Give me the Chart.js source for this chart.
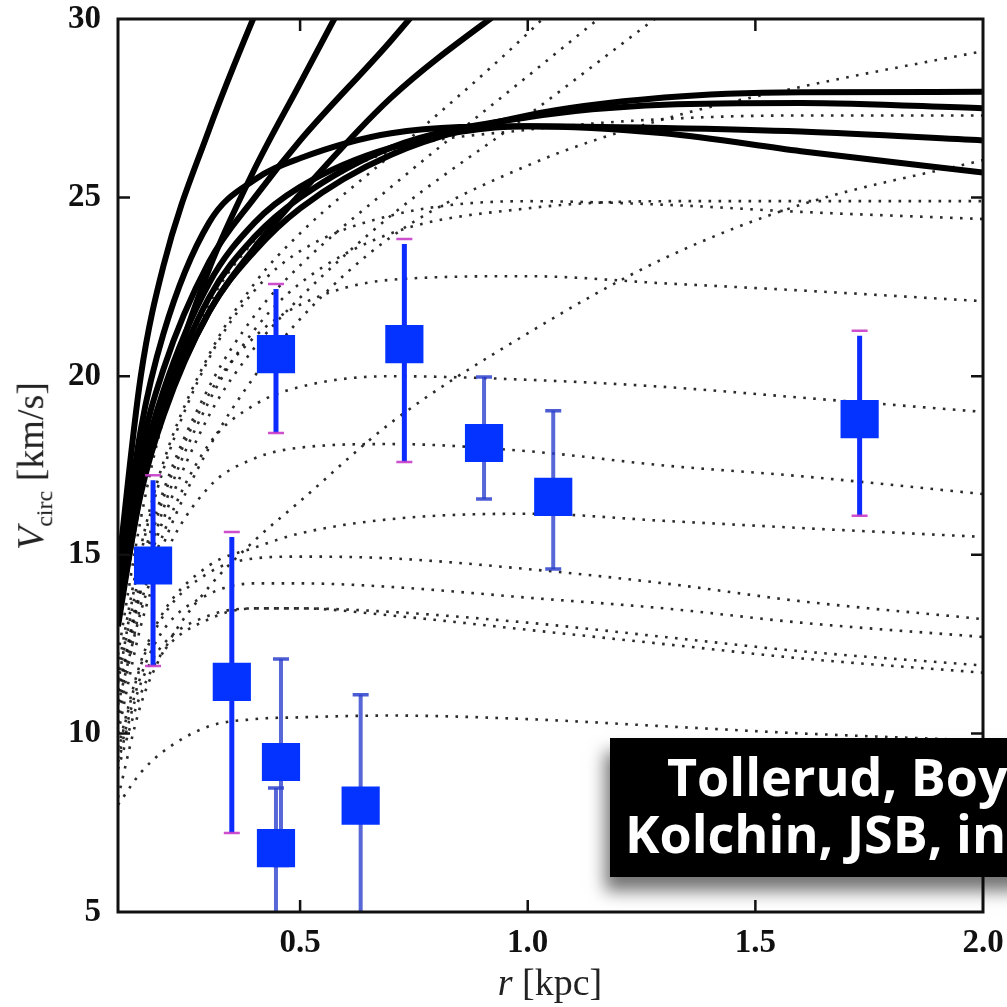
<!DOCTYPE html>
<html lang="en">
<head>
<meta charset="UTF-8">
<title>Vcirc vs r</title>
<script src="https://cdn.jsdelivr.net/npm/chart.js"></script>
<style>
  body { margin: 0; background: #fff; }
  #wrap { position: relative; width: 1007px; height: 1007px; overflow: hidden; }
  #chart { position: absolute; left: 0; top: 0; }
  .ytitle {
    position: absolute; left: 33px; top: 466px;
    transform: translate(-50%, -50%) rotate(-90deg);
    font-family: "Liberation Serif", serif; font-size: 38px;
    white-space: nowrap; color: #222;
  }
  .xtitle {
    position: absolute; left: 550px; top: 982px;
    transform: translate(-50%, -50%);
    font-family: "Liberation Serif", serif; font-size: 38px;
    white-space: nowrap; color: #222;
  }
  .ytitle sub { font-size: 24px; }
  .credit {
    position: absolute; left: 610px; top: 738px; width: 430px; height: 139px;
    background: #000; box-shadow: -5px 14px 16px rgba(0,0,0,0.55);
  }
  .credit span {
    position: absolute; color: #fff; white-space: nowrap;
    font-family: "Open Sans", sans-serif; font-weight: bold; font-size: 52px; line-height: 1;
  }
</style>
</head>
<body>
<div id="wrap">
  <canvas id="chart" width="1007" height="1007"></canvas>
  <div class="ytitle"><i>V</i><sub>circ</sub> [km/s]</div>
  <div class="xtitle"><i>r</i> [kpc]</div>
  <div class="credit">
    <span style="left:57px; top:12px;">Tollerud, Boy</span>
    <span style="left:15px; top:69px;">Kolchin, JSB, in</span>
  </div>
</div>
<script>
const rGrid = [0.1, 0.15, 0.2, 0.3, 0.4, 0.5, 0.7, 1.0, 1.3, 1.6, 2.0];

// solid curves (km/s)
const solid1 = [14.5, 20.0, 23.1, 26.9, 30.1, 33.0, null, null, null, null, null];
const solid2 = [13.5, 17.0, 19.3, 23.0, 25.8, 28.2, 33.0, null, null, null, null];
const solid3 = [13.3, 17.8, 20.2, 23.2, 25.0, 26.6, 29.4, 34.0, null, null, null];
const solid4 = [13.0, 16.8, 19.0, 21.8, 23.6, 25.1, 27.8, 30.8, null, null, null];
const solid5 = [13.2, 16.7, 18.9, 21.8, 23.5, 24.7, 26.2, 27.3, 27.8, 27.95, 27.96];
const solid6 = [13.3, 17.0, 19.2, 22.2, 23.9, 25.0, 26.4, 27.25, 27.6, 27.65, 27.5];
const solid7 = [13.4, 17.3, 19.6, 22.6, 24.3, 25.3, 26.4, 27.0, 26.95, 26.85, 26.6];
const solid8 = [14.0, 18.5, 21.2, 24.3, 25.5, 26.1, 26.8, 27.0, 26.8, 26.3, 25.7];

// dotted curves (km/s)
const dotted1 = [11.8, 15.2, 17.6, 20.6, 22.6, 24.0, 26.2, 29.6, 33.5, null, null];
const dotted2 = [11.5, 14.6, 16.8, 19.7, 21.7, 23.1, 25.3, 28.4, 31.5, null, null];
const dotted3 = [11.2, 14.0, 16.0, 18.9, 20.8, 22.2, 24.5, 27.3, 30.2, 33.0, null];
const dotted4 = [10.8, 13.4, 15.3, 18.0, 20.0, 21.6, 23.9, 25.9, 27.2, 28.1, 29.1];
const dotted5 = [12.2, 16.0, 18.8, 22.0, 23.8, 25.0, 26.3, 26.9, 27.2, 27.3, 27.3];
const dotted6 = [8.2, 10.8, 12.3, 14.1, 15.4, 16.5, 18.7, 21.2, 23.3, 24.8, 26.05];
const dotted7 = [10.6, 14.0, 16.3, 19.3, 21.3, 22.6, 24.0, 24.7, 24.9, 24.9, 24.9];
const dotted8 = [11.4, 15.0, 17.4, 20.5, 22.4, 23.5, 24.5, 24.9, 24.8, 24.6, 24.4];
const dotted9 = [10.9, 14.3, 16.6, 19.5, 21.1, 22.0, 22.7, 22.8, 22.6, 22.4, 22.1];
const dotted10 = [10.3, 13.6, 15.6, 18.1, 19.2, 19.7, 20.0, 19.9, 19.7, 19.4, 19.0];
const dotted11 = [10.0, 13.0, 14.9, 16.9, 17.7, 18.0, 18.1, 17.9, 17.5, 17.2, 16.7];
const dotted12 = [9.6, 12.0, 13.4, 14.7, 15.2, 15.6, 16.0, 16.15, 15.95, 15.75, 15.5];
const dotted13 = [9.5, 11.9, 13.3, 14.5, 14.9, 14.95, 14.9, 14.6, 14.2, 13.7, 13.2];
const dotted14 = [9.3, 11.6, 12.9, 13.9, 14.2, 14.2, 14.1, 13.8, 13.5, 13.1, 12.7];
const dotted15 = [9.2, 11.4, 12.5, 13.3, 13.5, 13.5, 13.4, 13.1, 12.7, 12.3, 11.9];
const dotted16 = [9.0, 11.1, 12.3, 13.2, 13.5, 13.5, 13.3, 12.9, 12.5, 12.1, 11.7];
const dotted17 = [8.0, 8.9, 9.5, 10.2, 10.4, 10.45, 10.5, 10.4, 10.2, 10.0, 9.8];

// measured points
const pointR = [0.177, 0.350, 0.447, 0.458, 0.447, 0.633, 0.729, 0.904, 1.056, 1.729];
const pointV = [14.7, 11.44, 20.62, 9.2, 6.79, 7.98, 20.9, 18.13, 16.62, 18.8];
const errHigh = [17.23, 15.64, 22.58, 12.08, 8.47, 11.08, 23.84, 19.98, 19.03, 21.27];
const errLow = [11.89, 7.21, 18.41, 6.3, 3.5, 3.0, 17.6, 16.56, 14.6, 16.09];
const pointSet = [1, 1, 1, 2, 2, 2, 1, 2, 2, 1];

const xTicks = [0.5, 1.0, 1.5, 2.0];
const yTicks = [5, 10, 15, 20, 25, 30];

const solids = [solid1, solid2, solid3, solid4, solid5, solid6, solid7, solid8];
const dotteds = [dotted1, dotted2, dotted3, dotted4, dotted5, dotted6, dotted7, dotted8, dotted9,
  dotted10, dotted11, dotted12, dotted13, dotted14, dotted15, dotted16, dotted17];

function curve(vals, solid) {
  return {
    type: 'line',
    data: rGrid.map((r, i) => ({ x: r, y: vals[i] })),
    borderColor: solid ? '#000' : 'rgba(20,20,20,0.9)',
    borderWidth: solid ? 6 : 2.6,
    borderDash: solid ? [] : [2.6, 7.4],
    cubicInterpolationMode: 'monotone',
    pointRadius: 0,
    fill: false,
    clip: 0
  };
}

const tickFont = { family: '"Liberation Serif", serif', size: 33, weight: 'bold' };

const frame = {
  id: 'frame',
  beforeDatasetDraw(chart, args) {
    if (args.index !== 0) return;
    const { ctx, chartArea: a, scales: { x, y } } = chart;
    ctx.save();
    ctx.beginPath();
    ctx.rect(a.left, a.top, a.right - a.left, a.bottom - a.top);
    ctx.clip();
    pointR.forEach((r, i) => {
      const px = x.getPixelForValue(r);
      const top = y.getPixelForValue(errHigh[i]);
      const bot = y.getPixelForValue(errLow[i]);
      const bright = pointSet[i] === 1;
      ctx.strokeStyle = bright ? '#0b2bff' : 'rgba(45,65,205,0.8)';
      ctx.lineWidth = bright ? 5 : 4;
      ctx.beginPath();
      ctx.moveTo(px, top + (bright ? 5 : 0));
      ctx.lineTo(px, bot);
      ctx.stroke();
      ctx.strokeStyle = bright ? 'rgba(200,60,200,0.9)' : 'rgba(45,65,205,0.85)';
      ctx.lineWidth = bright ? 2.5 : 3.5;
      ctx.beginPath();
      ctx.moveTo(px - 8, top); ctx.lineTo(px + 8, top);
      ctx.moveTo(px - 8, bot); ctx.lineTo(px + 8, bot);
      ctx.stroke();
    });
    ctx.restore();
  },
  afterDraw(chart) {
    const { ctx, chartArea: a, scales: { x, y } } = chart;
    ctx.save();
    ctx.strokeStyle = '#111';
    ctx.lineWidth = 3;
    ctx.strokeRect(a.left, a.top, a.right - a.left, a.bottom - a.top);
    ctx.lineWidth = 2.5;
    ctx.beginPath();
    yTicks.slice(1, -1).forEach(v => {
      const py = y.getPixelForValue(v);
      ctx.moveTo(a.left, py); ctx.lineTo(a.left + 12, py);
      ctx.moveTo(a.right, py); ctx.lineTo(a.right - 12, py);
    });
    xTicks.slice(0, -1).forEach(v => {
      const px = x.getPixelForValue(v);
      ctx.moveTo(px, a.bottom); ctx.lineTo(px, a.bottom - 12);
      ctx.moveTo(px, a.top); ctx.lineTo(px, a.top + 12);
    });
    ctx.stroke();
    ctx.restore();
  }
};

new Chart(document.getElementById('chart'), {
  data: {
    datasets: [
      {
        type: 'scatter',
        data: pointR.map((r, i) => ({ x: r, y: pointV[i] })),
        pointStyle: 'rect',
        pointRadius: 27,
        pointBackgroundColor: '#0433ff',
        pointBorderWidth: 0,
        clip: 0
      },
      ...solids.map(s => curve(s, true)),
      ...dotteds.map(d => curve(d, false))
    ]
  },
  options: {
    responsive: false,
    animation: false,
    layout: { autoPadding: false, padding: { top: 19, right: 24, left: 0, bottom: 0 } },
    plugins: { legend: { display: false }, tooltip: { enabled: false } },
    scales: {
      x: {
        type: 'linear', min: 0.1, max: 2.0,
        afterBuildTicks: s => { s.ticks = xTicks.map(v => ({ value: v })); },
        afterFit: s => { s.height = 95; s.paddingLeft = 0; s.paddingRight = 0; },
        ticks: { callback: v => v.toFixed(1), font: tickFont, color: '#111', padding: 12, maxRotation: 0, autoSkip: false },
        grid: { display: false, drawTicks: false },
        border: { display: false }
      },
      y: {
        type: 'linear', min: 5, max: 30,
        afterBuildTicks: s => { s.ticks = yTicks.map(v => ({ value: v })); },
        afterFit: s => { s.width = 118; s.paddingTop = 0; s.paddingBottom = 0; },
        ticks: { callback: v => String(v), font: tickFont, color: '#111', padding: 17, autoSkip: false },
        grid: { display: false, drawTicks: false },
        border: { display: false }
      }
    }
  },
  plugins: [frame]
});
</script>
</body>
</html>
